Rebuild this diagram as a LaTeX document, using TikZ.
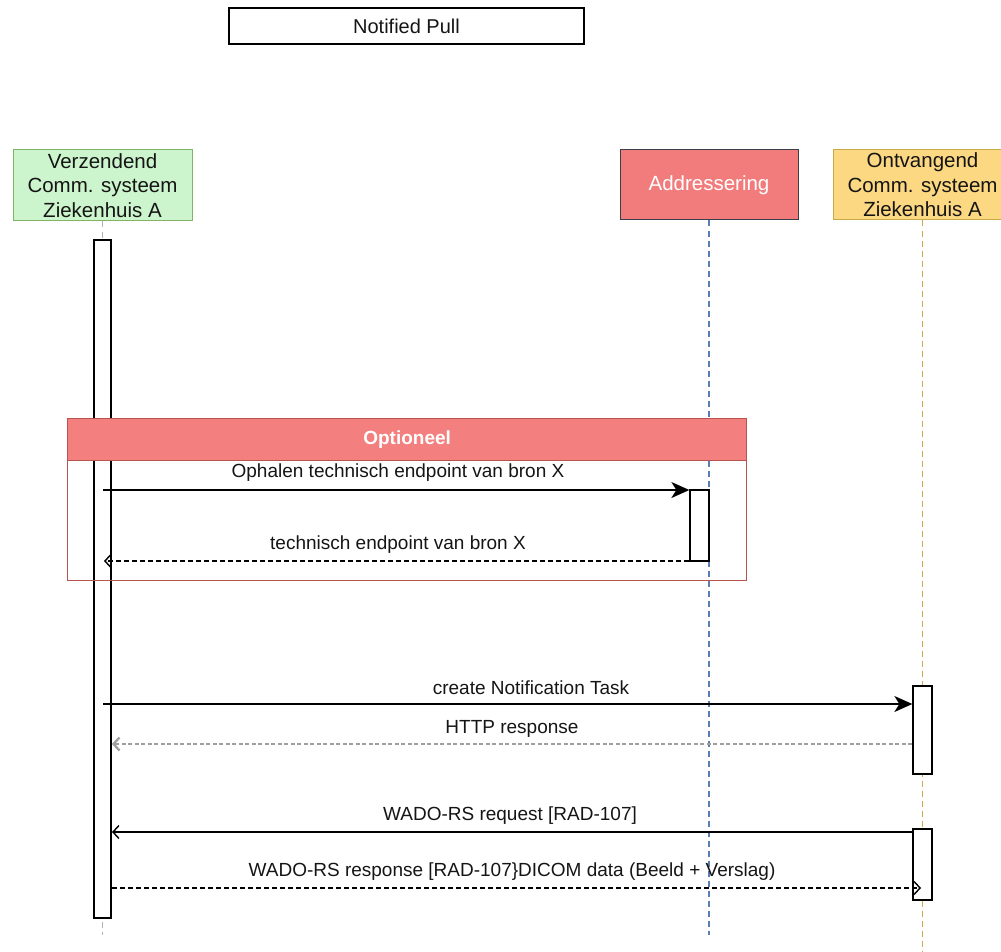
\documentclass[tikz,border=0pt]{standalone}
\usepackage{fontspec}
\setmainfont{Liberation Sans}
\usetikzlibrary{arrows.meta}

\definecolor{sndfill}{HTML}{CDF5CD}
\definecolor{sndline}{HTML}{82B366}
\definecolor{adrfill}{HTML}{F27C7C}
\definecolor{adrline}{HTML}{3A3F4A}
\definecolor{ontfill}{HTML}{FDD882}
\definecolor{ontline}{HTML}{C8AA48}
\definecolor{optfill}{HTML}{F47F7F}
\definecolor{optline}{HTML}{B85450}
\definecolor{lifeblue}{HTML}{5A7DB5}
\definecolor{txt}{HTML}{151515}

\newcommand\hdrfont{\fontsize{20.5}{24.5}\selectfont}
\newcommand\msgfont{\fontsize{19}{22}\selectfont}

\tikzset{
  actor/.style={draw, line width=1pt, minimum width=179pt, minimum height=71pt,
    inner sep=0pt, align=center, font=\hdrfont, text=txt},
  actbar/.style={draw, fill=white, line width=1.3pt, inner sep=0pt},
  lifeline/.style={line width=1.1pt, dash pattern=on 6pt off 4pt},
  msg/.style={line width=1.4pt, draw=black},
  call/.style={msg, -{Stealth[length=18pt, width=16pt, inset=5pt]}},
  reply/.style={msg, dash pattern=on 5pt off 3pt, -{Straight Barb[length=6pt, width=13pt]}},
  lbl/.style={font=\msgfont, text=txt, inner sep=0pt}
}

\begin{document}
\begin{tikzpicture}[x=1pt, y=-1pt]
\useasboundingbox (0,0) rectangle (1001,952);
\clip (0,0) rectangle (1001,952);

% title box
\node[draw, line width=1.3pt, minimum width=355pt, minimum height=36pt, inner sep=0pt,
      font=\fontsize{20}{24}\selectfont, text=txt] (title) at (406.5,26) {Notified Pull};

% participants
\node[actor, fill=sndfill, draw=sndline] (snd) at (102.5,185.5)
  {Verzendend\\Comm. systeem\\Ziekenhuis A};
\node[actor, fill=adrfill, draw=adrline, minimum width=178pt, minimum height=70pt,
      text=white] (adr) at (709,185) {Addressering};
\node[actor, fill=ontfill, draw=ontline, minimum height=70pt] (ont) at (922.5,185)
  {Ontvangend\\Comm. systeem\\Ziekenhuis A};

% lifeline ends
\coordinate (sndEnd) at (102.5,935);
\coordinate (adrEnd) at (709,935);
\coordinate (ontEnd) at (922.5,952);

\draw[lifeline, draw=gray!60] (snd.south) -- (sndEnd);
\draw[lifeline, draw=lifeblue] (adr.south) -- (adrEnd);
\draw[lifeline, draw=ontline] (ont.south) -- (ontEnd);

% activation of the sender
\node[actbar, minimum width=17pt, minimum height=678pt] (actS) at (102.5,579) {};

% optional fragment
\node[draw=optline, line width=1.2pt, minimum width=679pt, minimum height=162pt,
      inner sep=0pt, anchor=north west] (opt) at (67,418) {};
\node[draw=optline, fill=optfill, line width=1.2pt, minimum width=679pt, minimum height=42pt,
      inner sep=0pt, anchor=north west, text=white,
      font=\fontsize{19}{22}\selectfont\bfseries] (opthd) at (67,418) {Optioneel};

% other activations
\node[actbar, minimum width=19pt, minimum height=71pt] (actA) at (699.5,525.5) {};
\node[actbar, minimum width=19pt, minimum height=88pt] (actO1) at (922.5,730) {};
\node[actbar, minimum width=19pt, minimum height=71pt] (actO2) at (922.5,864.5) {};

% message end points on the sender lifeline
\coordinate (m1) at (103,490);
\coordinate (m2) at (104,561);
\coordinate (m3) at (103,704);
\coordinate (m4) at (112,744);
\coordinate (m5) at (112,832);
\coordinate (m6) at (112,888);
\coordinate (m6e) at (921,888);

% messages
\draw[call] (m1) -- (actA.west |- m1);
\node[lbl] (l1) at (398,473) {Ophalen technisch endpoint van bron X};

\draw[reply] (actA.west |- m2) -- (m2);
\node[lbl] (l2) at (398,545) {technisch endpoint van bron X};

\draw[call] (m3) -- (actO1.west |- m3);
\node[lbl] (l3) at (531,688) {create Notification Task};

\draw[msg, draw=gray!75, line width=2.2pt, dash pattern=on 4pt off 2.5pt,
      -{Straight Barb[length=6pt, width=13pt]}] (actO1.west |- m4) -- (m4);
\node[lbl] (l4) at (512,729) {HTTP response};

\draw[msg, -{Straight Barb[length=6pt, width=13pt]}] (actO2.west |- m5) -- (m5);
\node[lbl] (l5) at (510,816) {WADO-RS request [RAD-107]};

\draw[reply] (m6) -- (m6e);
\node[lbl] (l6) at (512,872) {WADO-RS response [RAD-107\}DICOM data (Beeld + Verslag)};

\end{tikzpicture}
\end{document}
